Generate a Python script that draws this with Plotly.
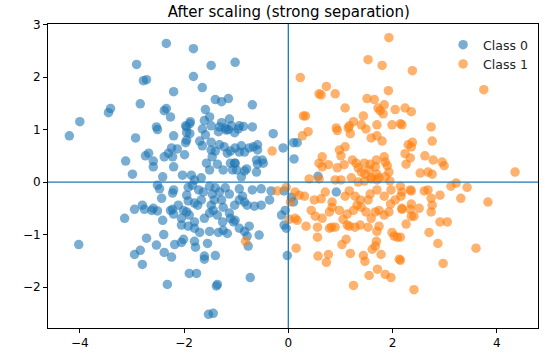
import plotly.graph_objects as go

title = "After scaling (strong separation)"
class_names = ["Class 0", "Class 1"]
x_ticks = [-4, -2, 0, 2, 4]
y_ticks = [-2, -1, 0, 1, 2, 3]

class0 = [
    (-2.34, 2.64), (-1.82, 2.54), (-2.91, 2.24), (-1.02, 2.28), (-1.48, 2.22), (-2.78, 1.93), (-2.72, 1.95),
    (-1.82, 2.01), (-1.65, 1.80), (-2.20, 1.72), (-2.84, 1.49), (-3.41, 1.40), (-3.45, 1.32), (-4.00, 1.15),
    (-2.34, 1.40), (-2.38, 1.36), (-2.26, 1.24), (-2.53, 1.05), (-1.40, 1.57), (-1.28, 1.53), (-1.15, 1.59),
    (-0.69, 1.47), (-1.59, 1.38), (-1.51, 1.24), (-1.88, 1.15), (-1.97, 1.07), (-1.28, 1.13), (-1.13, 1.20),
    (-0.69, 1.05),
    (-4.20, 0.88), (-2.93, 0.84), (-2.51, 1.00), (-2.20, 0.88), (-3.12, 0.40), (-2.99, 0.15), (-2.74, 0.50),
    (-2.68, 0.55), (-2.59, 0.40), (-2.59, 0.29), (-2.38, 0.48), (-2.30, 0.55), (-2.24, 0.65), (-2.20, 0.29),
    (-2.41, 0.10), (-2.51, -0.06), (-2.47, -0.13), (-2.43, -0.31), (-2.22, -0.21), (-2.95, -0.52), (-2.80, -0.44),
    (-2.76, -0.52), (-2.62, -0.54), (-2.59, -0.50), (-2.51, -0.55), (-3.14, -0.69), (-2.41, -0.73), (-2.22, -0.52),
    (-4.02, -1.19), (-2.72, -1.07), (-2.39, -1.00), (-2.53, -1.20), (-2.84, -1.30), (-2.95, -1.38), (-2.38, -1.34),
    (-2.24, -1.43), (-2.80, -1.57), (-2.32, -1.95),
    (-1.95, 1.05), (-1.89, 1.11), (-1.61, 1.17), (-1.48, 1.07), (-1.21, 1.03), (-1.15, 1.00), (-1.09, 1.07),
    (-0.96, 1.01), (-0.86, 1.06), (-1.95, 0.94), (-1.89, 0.92), (-1.65, 1.01), (-1.59, 0.90), (-1.34, 0.96),
    (-1.19, 0.99), (-1.03, 0.94), (-0.94, 1.07), (-0.29, 0.92),
    (-2.13, 0.63), (-1.97, 0.75), (-1.70, 0.78), (-1.65, 0.69), (-1.48, 0.76), (-1.40, 0.59), (-1.32, 0.71),
    (-1.23, 0.67), (-1.17, 0.55), (-1.11, 0.59), (-1.02, 0.65), (-0.94, 0.57), (-0.90, 0.69), (-0.84, 0.57),
    (-0.75, 0.65), (-0.67, 0.67), (-0.59, 0.61), (-0.59, 0.71), (-0.48, 0.36), (-0.59, 0.34), (-0.84, 0.21),
    (-1.07, 0.23), (-1.02, 0.36), (-1.95, 0.80), (-1.48, 0.61), (-1.32, 1.05),
    (-2.22, 0.48), (-1.99, 0.52), (-1.57, 0.36), (-1.51, 0.23), (-1.46, 0.48), (-1.36, 0.34), (-1.03, 0.36),
    (-0.99, 0.23), (-0.90, 0.10), (-0.80, 0.25), (-0.61, 0.19), (-0.61, 0.42), (-0.50, 0.42), (-2.03, 0.13),
    (-1.86, 0.13), (-1.80, 0.04), (-1.67, 0.08), (-1.25, 0.23), (-1.11, 0.36),
    (-2.20, -0.15), (-1.92, -0.10), (-1.95, -0.25), (-1.84, -0.06), (-1.72, -0.15), (-1.63, -0.19), (-1.51, -0.08),
    (-1.46, -0.23), (-1.40, -0.11), (-1.32, -0.19), (-1.21, -0.11), (-1.13, -0.23), (-0.94, -0.13), (-0.88, -0.27),
    (-0.69, -0.15), (-0.52, -0.13), (-0.33, -0.17),
    (-1.92, -0.36), (-1.67, -0.34), (-1.42, -0.34), (-2.26, -0.54), (-2.11, -0.44), (-2.01, -0.54), (-1.95, -0.57),
    (-1.80, -0.40), (-1.74, -0.44), (-1.48, -0.44), (-1.28, -0.34), (-1.25, -0.48), (-1.13, -0.59), (-1.03, -0.44),
    (-0.94, -0.34), (-0.84, -0.38), (-0.79, -0.44), (-0.65, -0.46), (-0.52, -0.44), (-0.36, -0.34),
    (-2.20, -0.61), (-2.05, -0.69), (-1.90, -0.63), (-1.80, -0.76), (-1.61, -0.69), (-1.51, -0.59), (-1.44, -0.54),
    (-1.36, -0.63), (-1.26, -0.76), (-1.11, -0.69), (-1.02, -0.73),
    (-1.80, -0.88), (-1.70, -0.96), (-1.51, -0.94), (-1.34, -0.96), (-1.25, -0.92), (-1.17, -0.98), (-0.94, -0.88),
    (-0.84, -0.94), (-0.79, -1.03), (-2.05, -0.82), (-1.92, -0.84), (-1.05, -0.76), (-0.75, -0.84), (-0.56, -1.01),
    (-2.18, -1.19), (-2.05, -1.15), (-2.01, -1.09), (-1.80, -1.13), (-1.78, -1.24), (-1.55, -1.17), (-1.61, -1.41),
    (-1.40, -1.40), (-1.90, -1.74), (-1.76, -1.74), (-1.36, -1.95), (-1.38, -1.98), (-0.73, -1.82), (-0.77, -1.22),
    (-1.61, -1.47), (-1.53, -2.52), (-1.44, -2.50),
    (-0.10, 0.65), (0.10, 0.75), (0.17, 0.75), (0.11, 0.44), (0.57, 0.11), (0.92, -0.19), (-0.08, -0.17),
    (0.06, -0.29), (0.10, -0.38), (-0.06, -0.54), (-0.13, -0.63), (-0.08, -0.82), (-0.04, -0.88), (-0.02, -1.40),
]

class1 = [
    (1.93, 2.75), (1.53, 2.33), (1.80, 2.22), (0.23, 1.99), (0.73, 1.82), (0.59, 1.68), (0.63, 1.66),
    (0.90, 1.68), (1.92, 1.74), (1.09, 1.41), (1.51, 1.59), (1.65, 1.57), (1.84, 1.47), (1.72, 1.41),
    (1.76, 1.36), (1.82, 1.30), (0.29, 1.26), (0.33, 1.26), (1.44, 1.26), (1.25, 1.15), (1.17, 1.07),
    (0.92, 1.03), (1.70, 1.09), (1.99, 1.09), (2.38, 2.12), (3.75, 1.76), (2.36, 1.34), (2.74, 1.05),
    (2.15, 1.11), (2.18, 1.09), (2.24, 1.41), (2.05, 1.38), (2.76, 0.78), (2.38, 0.76), (2.36, 0.67),
    (2.30, 0.71), (2.24, 0.54), (2.34, 0.46), (2.26, 0.34), (2.62, 0.50), (2.78, 0.42), (2.95, 0.38),
    (2.99, 0.31), (2.53, 0.17), (2.68, 0.19), (2.76, 0.15), (4.35, 0.19), (3.22, -0.02), (3.12, -0.08),
    (3.43, -0.10), (2.15, -0.08), (2.18, -0.19), (2.34, -0.15), (2.36, -0.17), (2.61, -0.17), (2.68, -0.15),
    (2.91, -0.25), (2.16, -0.27), (2.74, -0.31), (2.76, -0.44), (2.74, -0.57), (3.31, -0.31), (3.83, -0.38),
    (2.36, -0.42), (2.18, -0.50), (2.51, -0.50), (2.18, -0.52), (2.34, -0.52), (2.41, -0.65), (2.36, -0.65),
    (2.91, -0.76), (3.05, -0.76), (2.26, -0.80), (2.70, -0.96), (2.15, -1.05), (2.87, -1.17), (3.60, -1.26),
    (2.15, -1.49), (2.97, -1.55), (2.41, -2.05),
    (0.15, -1.26), (0.56, -0.86), (0.56, -1.05), (0.79, -0.88), (0.83, -0.86), (0.90, -0.86), (1.13, -0.82),
    (1.17, -0.84), (1.28, -0.86), (1.38, -0.82), (1.53, -0.86), (1.74, -0.84), (1.70, -0.94), (1.03, -1.19),
    (1.11, -1.09), (1.19, -1.36), (0.57, -1.41), (0.77, -1.38), (0.73, -1.53), (1.44, -1.40), (1.47, -1.51),
    (1.69, -1.13), (1.67, -1.22), (1.61, -1.28), (1.78, -1.38), (2.13, -1.47), (1.55, -1.78), (1.71, -1.66),
    (1.86, -1.76), (1.97, -1.82), (1.25, -1.97), (1.99, -0.96), (2.03, -1.03), (2.09, -1.05),
    (0.27, 0.88), (0.38, 0.96), (0.94, 0.98), (1.15, 1.03), (1.19, 0.92), (1.40, 1.09), (1.49, 1.01),
    (1.59, 0.84), (1.70, 0.88), (1.80, 0.78), (0.98, 0.61), (1.09, 0.67), (0.65, 0.48), (1.01, 0.50),
    (0.59, 0.36), (0.65, 0.29), (0.77, 0.33), (0.94, 0.27), (1.07, 0.33), (1.23, 0.42), (1.30, 0.36),
    (1.34, 0.27), (1.46, 0.36), (1.57, 0.34), (1.40, 0.19), (1.47, 0.15), (1.55, 0.23), (1.67, 0.29),
    (1.69, 0.42), (1.84, 0.48), (1.86, 0.38), (1.90, 0.31), (1.93, 0.19), (1.70, 0.15), (1.59, 0.08),
    (1.74, 0.08), (0.40, 0.06), (0.59, 0.06), (0.90, 0.04), (1.01, 0.04), (1.21, 0.08), (1.34, 0.00),
    (1.46, 0.02), (1.59, 0.06), (1.70, 0.04), (1.86, 0.10), (1.95, 0.02),
    (0.13, -0.19), (0.21, -0.25), (0.31, -0.27), (0.50, -0.34), (0.63, -0.32), (0.84, -0.38), (1.09, -0.27),
    (1.17, -0.17), (1.28, -0.27), (1.38, -0.34), (1.53, -0.34), (1.57, -0.23), (1.70, -0.15), (1.84, -0.27),
    (1.97, -0.15), (2.05, -0.34), (0.84, -0.48), (0.98, -0.54), (1.13, -0.61), (1.25, -0.54), (1.32, -0.44),
    (1.40, -0.48), (1.49, -0.57), (1.59, -0.69), (1.67, -0.57), (1.74, -0.54), (1.84, -0.63), (1.93, -0.57),
    (0.44, -0.54), (0.52, -0.65), (0.79, -0.57), (0.17, -0.73), (0.34, -0.84), (0.71, -0.19), (-0.31, 0.59),
    (-0.82, -1.13), (0.65, -0.69), (1.05, -0.71), (1.96, -0.42), (-0.21, -0.17), (-0.04, -0.10), (0.04, -0.38),
    (0.02, -0.71), (0.13, -0.69),
]

x0 = [p[0] for p in class0]
y0 = [p[1] for p in class0]
x1 = [p[0] for p in class1]
y1 = [p[1] for p in class1]

fig = go.Figure()
for xs, ys, name, col in [(x0, y0, class_names[0], "#1f77b4"), (x1, y1, class_names[1], "#ff7f0e")]:
    fig.add_trace(go.Scatter(x=xs, y=ys, mode="markers", name=name,
                             marker=dict(color=col, size=9.5, opacity=0.6, line=dict(width=0))))

fig.add_hline(y=0, line=dict(color="#1f77b4", width=1.3), layer="above")
fig.add_vline(x=0, line=dict(color="#1f77b4", width=1.3), layer="above")

axis_common = dict(showgrid=False, zeroline=False, showline=True, linecolor="black", linewidth=1,
                   mirror=True, ticks="outside", ticklen=4, tickcolor="black",
                   tickfont=dict(family="DejaVu Sans", size=12, color="black"))

fig.update_layout(
    width=548, height=361,
    margin=dict(l=48, r=10, t=24, b=33),
    paper_bgcolor="white", plot_bgcolor="white",
    title=dict(text=title, x=0.527, xanchor="center", y=0.968, yanchor="middle",
               font=dict(family="DejaVu Sans", size=15, color="black")),
    xaxis=dict(range=[-4.61, 4.79], tickvals=x_ticks, ticktext=[str(v).replace("-", "−") for v in x_ticks], **axis_common),
    yaxis=dict(range=[-2.78, 3.01], tickvals=y_ticks, ticktext=[str(v).replace("-", "−") for v in y_ticks], **axis_common),
    legend=dict(x=0.99, y=0.98, xanchor="right", yanchor="top", bgcolor="rgba(255,255,255,0)",
                font=dict(family="DejaVu Sans", size=12.5, color="#222"), itemwidth=30),
    showlegend=True,
)

fig.write_html("out.html")
